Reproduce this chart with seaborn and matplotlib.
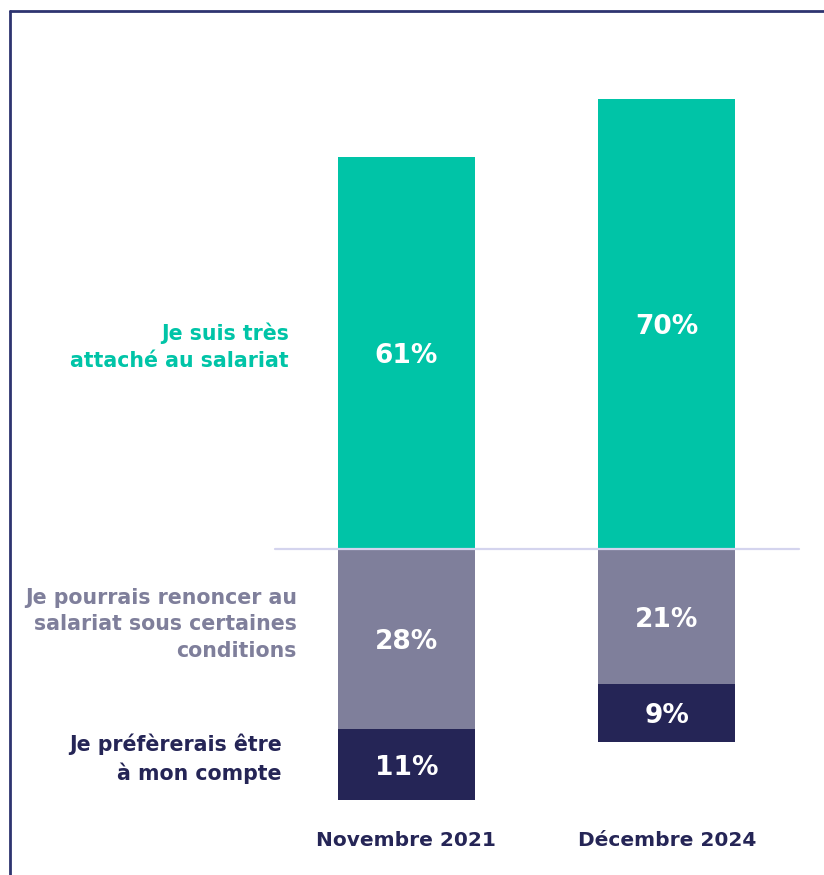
import matplotlib
matplotlib.use("Agg")
import matplotlib.pyplot as plt
from matplotlib.lines import Line2D
import pandas as pd
import seaborn as sns

# --- data ---
periods = ["Novembre 2021", "Décembre 2024"]
attache = [61, 70]          # Je suis très attaché au salariat
renoncer = [28, 21]         # Je pourrais renoncer au salariat sous certaines conditions
compte = [11, 9]            # Je préférerais être à mon compte

series_labels = [
    "Je suis très\nattaché au salariat",
    "Je pourrais renoncer au\nsalariat sous certaines\nconditions",
    "Je préfèrerais être\nà mon compte",
]

GREEN = "#00C4A7"
GREY = "#7F7F9B"
NAVY = "#252556"
FRAME = "#2E3470"

sns.set_style("white")
plt.rcParams["font.family"] = ["DejaVu Sans"]

df = pd.DataFrame({
    "period": periods,
    "attache": attache,
    "renoncer_neg": [-r for r in renoncer],
    "bas_neg": [-(r + c) for r, c in zip(renoncer, compte)],
})

fig = plt.figure(figsize=(8.24, 8.75), dpi=100)
ax = fig.add_axes([0, 0, 1, 1])

W = 0.526
sns.barplot(data=df, x="period", y="bas_neg", color=NAVY, width=W,
            saturation=1, ax=ax, linewidth=0)
sns.barplot(data=df, x="period", y="renoncer_neg", color=GREY, width=W,
            saturation=1, ax=ax, linewidth=0)
sns.barplot(data=df, x="period", y="attache", color=GREEN, width=W,
            saturation=1, ax=ax, linewidth=0)

# pixel-matched limits
ax.set_xlim(-1.560, 1.603)
ax.set_ylim(-50.70, 85.38)
ax.axis("off")

# baseline
ax.plot([-0.505, 1.507], [0, 0], color="#D4D4EE", lw=1.6, zorder=5)

# value labels (small downward nudge to match the reference)
vfs = 19
dy = -0.5
for i in range(len(periods)):
    ax.text(i, attache[i] / 2 + dy, f"{attache[i]}%", ha="center", va="center",
            color="white", fontsize=vfs, fontweight="bold", zorder=6)
    ax.text(i, -renoncer[i] / 2 + dy, f"{renoncer[i]}%", ha="center", va="center",
            color="white", fontsize=vfs, fontweight="bold", zorder=6)
    ax.text(i, -renoncer[i] - compte[i] / 2 + dy, f"{compte[i]}%", ha="center",
            va="center", color="white", fontsize=vfs, fontweight="bold", zorder=6)
    ax.text(i, -45.3, periods[i], ha="center", va="center", color=NAVY,
            fontsize=14.5, fontweight="bold")

# series labels on the left
lfs = 14.8
ls = 1.42
ax.text(-0.451, 31.4, series_labels[0], ha="right", va="center", color=GREEN,
        fontsize=lfs, fontweight="bold", linespacing=ls)
ax.text(-0.420, -11.7, series_labels[1], ha="right", va="center", color=GREY,
        fontsize=lfs, fontweight="bold", linespacing=ls)
ax.text(-0.478, -32.6, series_labels[2], ha="right", va="center", color=NAVY,
        fontsize=lfs, fontweight="bold", linespacing=ls)

# frame lines (left and top)
fig.add_artist(Line2D([10 / 824, 10 / 824], [0, 1 - 11 / 875],
                      transform=fig.transFigure, color=FRAME, lw=2))
fig.add_artist(Line2D([10 / 824, 1], [1 - 11 / 875, 1 - 11 / 875],
                      transform=fig.transFigure, color=FRAME, lw=2))

fig.savefig("out.png", dpi=100)
